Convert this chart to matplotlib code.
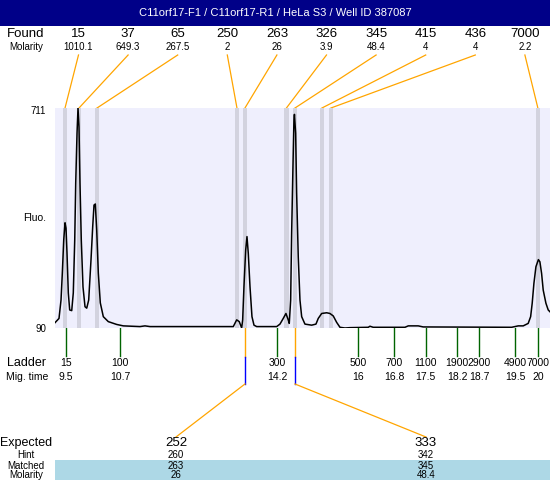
import numpy as np
import matplotlib.pyplot as plt
from matplotlib.patches import Rectangle

plt.rcParams['font.family'] = ['Liberation Sans', 'DejaVu Sans']

## Chart data
title_text = "C11orf17-F1 / C11orf17-R1 / HeLa S3 / Well ID 387087"

# electropherogram trace: migration time (s) and fluorescence
trace_t = [9.255, 9.344, 9.389, 9.418, 9.449, 9.478, 9.500, 9.522, 9.551, 9.582,
           9.627, 9.662, 9.694, 9.716, 9.745, 9.767, 9.789, 9.811, 9.840, 9.878,
           9.923, 9.961, 10.005, 10.056, 10.094, 10.123, 10.152, 10.183, 10.219, 10.263,
           10.330, 10.441, 10.628, 10.775, 11.146, 11.257, 11.369, 13.222, 13.298, 13.355,
           13.409, 13.431, 13.460, 13.498, 13.527, 13.556, 13.594, 13.638, 13.683, 13.743,
           14.188, 14.261, 14.334, 14.394, 14.445, 14.468, 14.499, 14.521, 14.550, 14.572,
           14.583, 14.610, 14.632, 14.668, 14.706, 14.744, 14.817, 14.966, 15.062, 15.113,
           15.189, 15.300, 15.373, 15.447, 15.522, 15.596, 15.707, 15.819, 16.226, 16.263,
           16.336, 17.042, 17.116, 17.338, 17.449, 19.416, 19.563, 19.674, 19.785, 19.839,
           19.874, 19.912, 19.957, 20.012, 20.045, 20.083, 20.119, 20.179, 20.230, 20.268]
trace_f = [105, 117, 169, 245, 338, 387, 372, 302, 189, 141,
           139, 189, 338, 499, 640, 711, 658, 499, 338, 206,
           150, 146, 169, 282, 376, 437, 440, 367, 245, 161,
           122, 108, 100, 96, 94, 96, 94, 94, 113, 108,
           90, 113, 207, 310, 348, 301, 207, 122, 98, 94,
           94, 101, 117, 131, 113, 103, 169, 358, 545, 677,
           693, 640, 471, 291, 169, 122, 101, 98, 101, 117,
           131, 133, 131, 124, 106, 92, 90, 91, 92, 95,
           92, 92, 96, 96, 93, 92, 96, 96, 103, 122,
           160, 216, 263, 283, 277, 244, 197, 160, 141, 136]

# found peaks
found_size = [15, 37, 65, 250, 263, 326, 345, 415, 436, 7000]
found_molarity = ["1010.1", "649.3", "267.5", "2", "26", "3.9", "48.4", "4", "4", "2.2"]
found_time = [9.478, 9.789, 10.19, 13.304, 13.482, 14.405, 14.595, 15.195, 15.395, 20.0]

# ladder
ladder_size = [15, 100, 300, 500, 700, 1100, 1900, 2900, 4900, 7000]
ladder_time = [9.5, 10.7, 14.2, 16, 16.8, 17.5, 18.2, 18.7, 19.5, 20]

# expected / matched products
expected = [252, 333]
hint = [260, 342]
matched = [263, 345]
matched_molarity = ["26", "48.4"]
matched_time = [13.482, 14.595]

fluo_min, fluo_max = 90, 711
t_min, t_max = 9.255, 20.27

## Figure: overlay in pixel units + electropherogram axes
W, H = 550, 480
fig = plt.figure(figsize=(5.5, 4.8), dpi=100)
ov = fig.add_axes([0, 0, 1, 1])
ov.set_xlim(0, W)
ov.set_ylim(H, 0)
ov.axis('off')

plot_l, plot_r, plot_t, plot_b = 55, 550, 108, 328
ax = fig.add_axes([plot_l / W, (H - plot_b) / H, (plot_r - plot_l) / W, (plot_b - plot_t) / H])
ax.set_xlim(t_min, t_max)
ax.set_ylim(fluo_min, fluo_max)
ax.set_facecolor('#EFEFFD')
ax.set_xticks([])
ax.set_yticks([])
for s in ax.spines.values():
    s.set_visible(False)


def t_to_px(t):
    xd = ax.transData.transform((t, fluo_min))[0]
    return ov.transData.inverted().transform((xd, 0))[0]


# bands + trace
for t in found_time:
    ax.axvspan(t - 0.05, t + 0.05, color='#D3D3DF', lw=0)
ax.plot(trace_t, trace_f, color='black', lw=1.1)

# title bar
ov.add_patch(Rectangle((0, 0), W, 26, color='#000088', lw=0))
ov.text(W / 2, 13, title_text, color='white', ha='center', va='center', fontsize=8)

lab_x = 26
# found rows
ov.text(lab_x, 34, "Found", ha='center', va='center', fontsize=9.5)
ov.text(lab_x, 47, "Molarity", ha='center', va='center', fontsize=7)
for i, (size, mol, t) in enumerate(zip(found_size, found_molarity, found_time)):
    cx = 78.5 + 49.6 * i
    ov.text(cx, 34, str(size), ha='center', va='center', fontsize=9.5)
    ov.text(cx, 47, mol, ha='center', va='center', fontsize=7)
    ov.plot([cx, t_to_px(t)], [55, plot_t], color='orange', lw=0.9)

# y labels
ov.text(46, 111, str(fluo_max), ha='right', va='center', fontsize=7)
ov.text(46, 329, str(fluo_min), ha='right', va='center', fontsize=7)
ov.text(46, 218, "Fluo.", ha='right', va='center', fontsize=7.5)

# ladder
ov.text(lab_x + 1, 363, "Ladder", ha='center', va='center', fontsize=9)
ov.text(lab_x + 1, 377, "Mig. time", ha='center', va='center', fontsize=7.5)
for size, t in zip(ladder_size, ladder_time):
    px = t_to_px(t)
    ov.plot([px, px], [plot_b, 356], color='#006400', lw=1)
    ov.text(px, 363, str(size), ha='center', va='center', fontsize=7.5)
    ov.text(px, 377, "{:g}".format(t), ha='center', va='center', fontsize=7.5)

# expected / matched
exp_x = [176, 426]
ov.add_patch(Rectangle((plot_l, 460), W - plot_l, 20, color='#ADD8E6', lw=0))
ov.text(lab_x, 443, "Expected", ha='center', va='center', fontsize=9)
ov.text(lab_x, 455, "Hint", ha='center', va='center', fontsize=7)
ov.text(lab_x, 466, "Matched", ha='center', va='center', fontsize=7)
ov.text(lab_x, 475, "Molarity", ha='center', va='center', fontsize=7)
for ex, e, h, m, mm, t in zip(exp_x, expected, hint, matched, matched_molarity, matched_time):
    px = t_to_px(t)
    ov.plot([px, px], [plot_b, 357], color='orange', lw=1)
    ov.plot([px, px], [357, 384], color='blue', lw=1)
    ov.plot([px, ex], [384, 437], color='orange', lw=0.9)
    ov.text(ex, 443, str(e), ha='center', va='center', fontsize=9.5)
    ov.text(ex, 455, str(h), ha='center', va='center', fontsize=7)
    ov.text(ex, 466, str(m), ha='center', va='center', fontsize=7)
    ov.text(ex, 475, mm, ha='center', va='center', fontsize=7)

fig.savefig('out.png', dpi=100)
